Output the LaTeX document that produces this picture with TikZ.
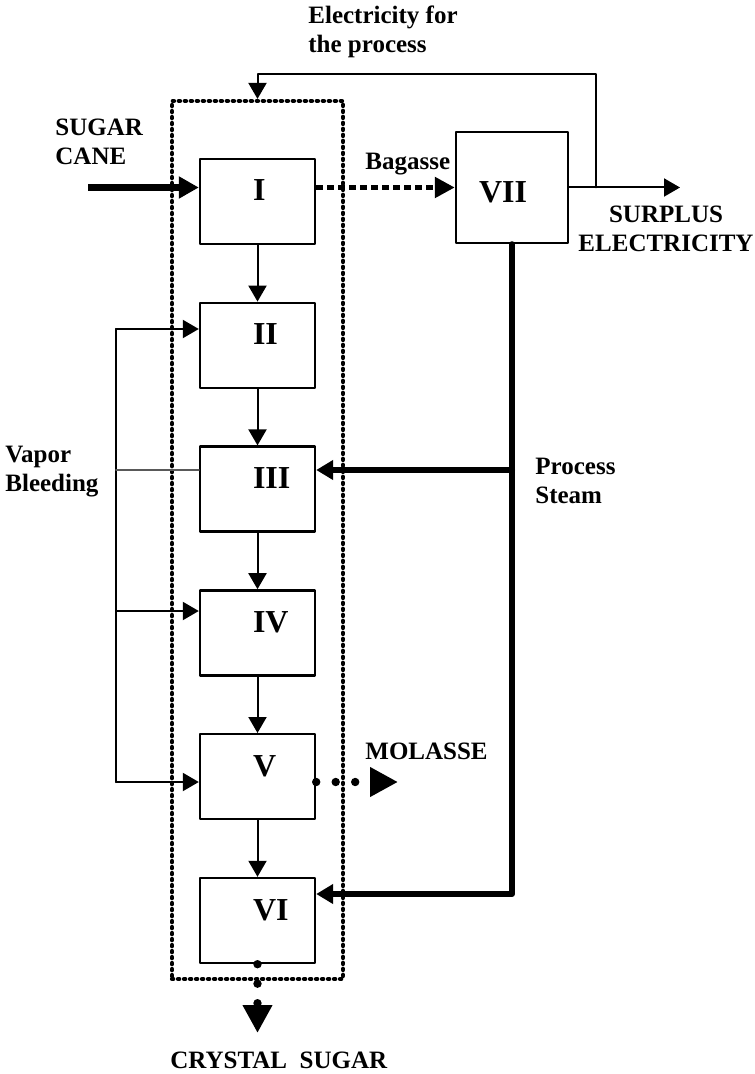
\documentclass[tikz,border=0pt]{standalone}
\usepackage{fontspec}
\setmainfont{Liberation Serif}
\usetikzlibrary{arrows.meta,positioning}
\newcommand{\unitname}[1]{\makebox[4.5pt][l]{#1}}

\begin{document}
\begin{tikzpicture}[
        x=0.5pt,y=-0.5pt,
        unit/.style={draw,line width=1.2pt,minimum width=57.5pt,minimum height=42.5pt,inner sep=0pt,
            font=\fontsize{16}{18}\selectfont\bfseries,text height=10.5pt,text depth=11pt},
        plant/.style={draw,line width=2.1pt,dash pattern=on 0.6pt off 2.4pt,minimum width=85.5pt,minimum height=439pt,inner sep=0pt},
        txt/.style={font=\fontsize{12.5}{14.5}\selectfont\bfseries,inner sep=0pt,align=left},
        flow/.style={line width=1pt,-{Triangle[length=8pt,width=9pt]}},
        steam/.style={line width=3pt,-{Triangle[length=8.5pt,width=9.5pt]}},
        dotline/.style={line width=4.2pt,dash pattern=on 0pt off 9.75pt,-{Triangle[length=14pt,width=14pt]}},
        node distance=28.2pt,
        line cap=round,line join=round
    ]
    \useasboundingbox (0,0) rectangle (754,1074);
    \node[plant] (plant) at (257.5,540) {};
    \node[unit] (s1) at (257.5,201.5) {\unitname{I}};
    \node[unit,below=of s1] (s2) {\unitname{II}};
    \node[unit,below=of s2] (s3) {\unitname{III}};
    \node[unit,below=of s3] (s4) {\unitname{IV}};
    \node[unit,below=of s4] (s5) {\unitname{V}};
    \node[unit,below=of s5] (s6) {\unitname{VI}};
    \node[unit,minimum width=56pt,minimum height=55.5pt,text height=15pt,text depth=0pt] (s7) at (512,187.5) {VII\hspace*{9pt}};
    \draw[flow] (s1) -- (s2);
    \draw[flow] (s2) -- (s3);
    \draw[flow] (s3) -- (s4);
    \draw[flow] (s4) -- (s5);
    \draw[flow] (s5) -- (s6);
    % cane, bagasse and electricity
    \coordinate (cane) at (88,187.5);
    \draw[line width=3.5pt,line cap=butt,-{Triangle[length=10pt,width=10.5pt]}] (cane) -- (cane -| s1.west);
    \draw[line width=2.5pt,line cap=butt,dash pattern=on 3.5pt off 2pt,-{Triangle[length=10pt,width=10pt]}] (s1.east |- s7) -- (s7.west);
    \coordinate (tap) at (596,187.5);
    \draw[flow] (s7.east) -- (680,187.5) coordinate (surplus);
    \draw[flow] (tap) -- ++(0,-113.5) -| (plant.north);
    % vapor bleeding
    \coordinate (vb2) at (116,329);
    \coordinate (vb3) at (116,470);
    \coordinate (vb4) at (116,611);
    \coordinate (vb5) at (116,782);
    \draw[line width=1pt] (vb2) -- (vb5);
    \draw[flow] (vb2) -- (vb2 -| s2.west);
    \draw[line width=1pt,black!65] (vb3) -- (vb3 -| s3.west);
    \draw[flow] (vb4) -- (vb4 -| s4.west);
    \draw[flow] (vb5) -- (vb5 -| s5.west);
    % process steam
    \coordinate (ps3) at (512,470);
    \coordinate (ps6) at (512,894);
    \draw[steam] (s7.south) -- (ps6) -- (ps6 -| s6.east);
    \draw[steam] (ps3) -- (ps3 -| s3.east);
    % products
    \draw[dotline] (s5.east |- vb5) -- (398,782) coordinate (molasse);
    \draw[dotline] (s6.south) -- (257.5,1033) coordinate (crystal);
    \node[txt,anchor=north west] (electxt) at (308,6) {Electricity for\\the process};
    \node[txt,anchor=north west] (canetxt) at (55,119) {SUGAR\\CANE};
    \node[txt,anchor=north west] (bagtxt) at (365,153) {Bagasse};
    \node[txt,anchor=north,align=center] (surplustxt) at (666,206) {SURPLUS\\ELECTRICITY};
    \node[txt,anchor=north west] (vaportxt) at (5,446) {Vapor\\Bleeding};
    \node[txt,anchor=north west] (steamtxt) at (535,458) {Process\\Steam};
    \node[txt,anchor=north west] (molassetxt) at (365,743) {MOLASSE};
    \node[txt,anchor=north west] (crystaltxt) at (170,1052) {CRYSTAL\ \ SUGAR};
\end{tikzpicture}
\end{document}
